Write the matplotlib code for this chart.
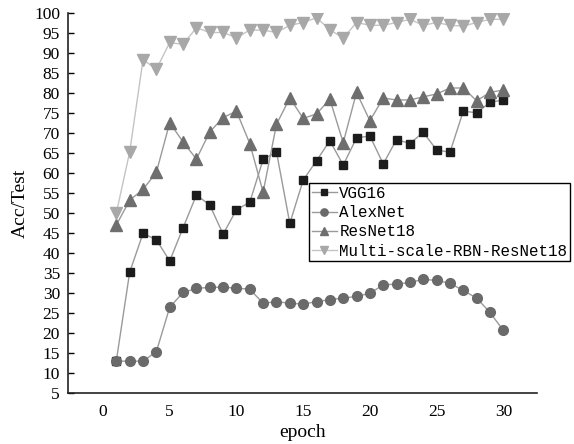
import numpy as np
import matplotlib
matplotlib.use("Agg")
import matplotlib.pyplot as plt

# values, epochs 1..30
epochs = np.arange(1, 31)

vgg16 = [13.0, 35.2, 44.9, 43.3, 38.0, 46.3, 54.5, 52.0, 44.7, 50.8,
         52.7, 63.4, 65.3, 47.4, 58.2, 63.1, 68.1, 62.0, 68.8, 69.3,
         62.3, 68.4, 67.4, 70.2, 65.8, 65.2, 75.5, 75.1, 77.7, 78.3]

alexnet = [12.9, 12.9, 12.9, 15.3, 26.4, 30.1, 31.1, 31.4, 31.4, 31.2,
           30.9, 27.4, 27.8, 27.4, 27.2, 27.8, 28.3, 28.7, 29.1, 29.9,
           32.0, 32.2, 32.6, 33.4, 33.1, 32.4, 30.6, 28.7, 25.1, 20.6]

resnet18 = [47.0, 53.2, 55.9, 60.2, 72.6, 67.8, 63.5, 70.3, 73.9, 75.5,
            67.4, 55.2, 72.2, 78.8, 73.7, 74.8, 78.5, 67.6, 80.2, 73.1,
            78.8, 78.3, 78.3, 79.1, 79.8, 81.3, 81.3, 78.1, 80.2, 80.8]

ms_rbn = [50.0, 65.3, 88.4, 86.0, 92.7, 92.2, 96.4, 95.2, 95.2, 93.9,
          95.8, 95.8, 95.2, 97.0, 97.7, 98.9, 95.9, 93.8, 97.7, 97.0,
          97.0, 97.7, 98.5, 97.0, 97.7, 97.0, 96.8, 97.7, 98.5, 98.5]

names = ["VGG16", "AlexNet", "ResNet18", "Multi-scale-RBN-ResNet18"]
xticks = [0, 5, 10, 15, 20, 25, 30]
yticks = list(range(5, 101, 5))

fig = plt.figure(figsize=(5.74, 4.44), dpi=100)
ax = fig.add_axes([0.119, 0.1155, 0.816, 0.8545])

ax.plot(epochs, vgg16, color="#9a9a9a", lw=1.0, marker="s", ms=6,
        mfc="#1c1c1c", mec="#1c1c1c", label=names[0])
ax.plot(epochs, alexnet, color="#9a9a9a", lw=1.0, marker="o", ms=7,
        mfc="#6a6a6a", mec="#6a6a6a", label=names[1])
ax.plot(epochs, resnet18, color="#9a9a9a", lw=1.0, marker="^", ms=8,
        mfc="#6e6e6e", mec="#6e6e6e", label=names[2])
ax.plot(epochs, ms_rbn, color="#c4c4c4", lw=1.0, marker="v", ms=8,
        mfc="#a8a8a8", mec="#a8a8a8", label=names[3])

ax.set_xlim(-2.6, 32.5)
ax.set_ylim(5, 100)
ax.set_xticks(xticks)
ax.set_yticks(yticks)

for s in ["top", "right"]:
    ax.spines[s].set_visible(False)
for s in ["left", "bottom"]:
    ax.spines[s].set_linewidth(1.2)
    ax.spines[s].set_color("#222222")

ax.tick_params(axis="y", direction="in", length=4, width=1.0, pad=6)
ax.tick_params(axis="x", length=0, pad=8)
for lab in ax.get_xticklabels() + ax.get_yticklabels():
    lab.set_fontfamily("Liberation Serif")
    lab.set_fontsize(12.5)

ax.set_xlabel("epoch", fontfamily="Liberation Serif", fontsize=14, labelpad=3)
ax.set_ylabel("Acc/Test", fontfamily="Liberation Serif", fontsize=14, labelpad=4)

leg = ax.legend(loc="upper left", bbox_to_anchor=(0.538, 0.588),
                bbox_transform=fig.transFigure,
                prop={"family": "Liberation Mono", "size": 11.4},
                frameon=True, fancybox=False, handlelength=1.6,
                handletextpad=0.15, labelspacing=0.27, borderpad=0.18,
                borderaxespad=0, markerscale=0.75)
leg.get_frame().set_edgecolor("black")
leg.get_frame().set_linewidth(1.0)
leg.get_frame().set_alpha(1)

fig.savefig("out.png", dpi=100)
